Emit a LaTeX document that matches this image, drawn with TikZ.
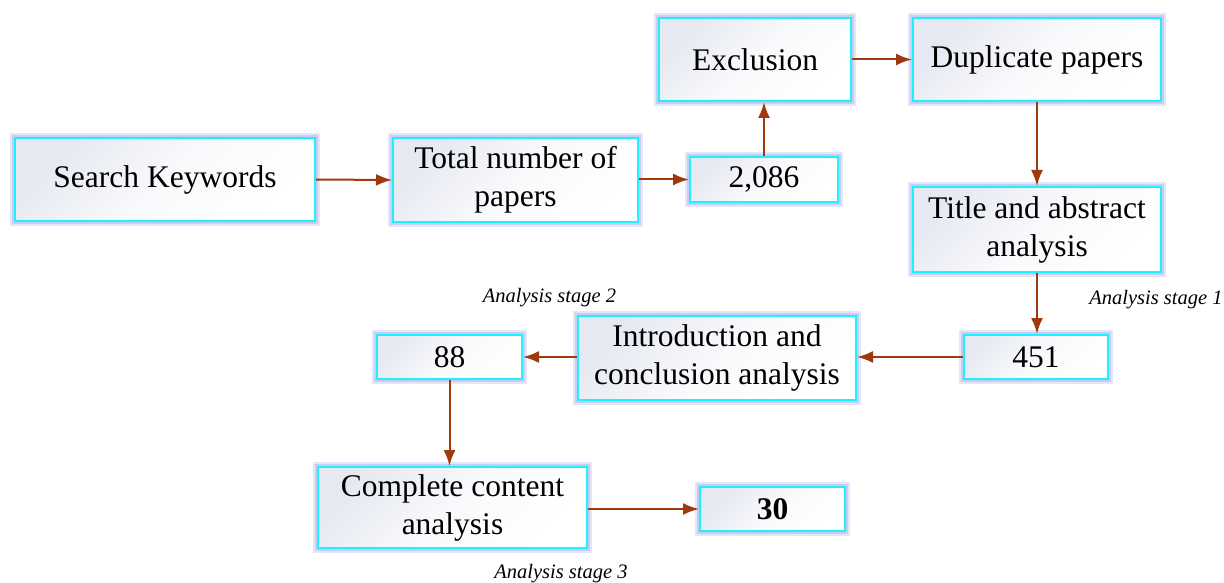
\documentclass[tikz,border=0pt]{standalone}
\usepackage{fontspec}
\setmainfont{Liberation Serif}
\usetikzlibrary{arrows.meta,calc}
\definecolor{arrowc}{RGB}{160,58,14}
\definecolor{glowa}{RGB}{228,230,248}
\definecolor{glowb}{RGB}{200,205,240}
\definecolor{edgec}{RGB}{30,240,255}
\definecolor{shadec}{RGB}{230,233,242}
\tikzset{
  fbox/.style={rectangle, inner sep=0pt, align=center,
    font=\fontsize{31.5}{38}\selectfont,
    preaction={draw=glowa, line width=10pt},
    preaction={draw=glowb, line width=6pt},
    draw=edgec, line width=2pt,
    top color=shadec, bottom color=white, middle color=white!75!shadec, shading angle=45},
  conn/.style={draw=arrowc, line width=2pt, -{Latex[length=16pt,width=12pt]}},
  stagelbl/.style={font=\fontsize{20.5}{24}\selectfont\itshape, inner sep=0pt}
}
\begin{document}
\begin{tikzpicture}[x=1pt,y=-1pt]
\useasboundingbox (0,0) rectangle (1224,583);
\node[fbox, minimum width=300pt, minimum height=83pt] (sk) at (165,179.5) {Search Keywords};
\node[fbox, minimum width=245pt, minimum height=84pt] (tot) at (515.5,180) {Total number of\\papers};
\node[fbox, minimum width=148pt, minimum height=45pt] (n2086) at (764,179.5) {2,086};
\node[fbox, minimum width=192pt, minimum height=83pt] (excl) at (755,59.5) {Exclusion};
\node[fbox, minimum width=248pt, minimum height=83pt] (dup) at (1037,59.5) {Duplicate papers};
\node[fbox, minimum width=248pt, minimum height=85pt] (title) at (1037,229.5) {Title and abstract\\analysis};
\node[fbox, minimum width=144pt, minimum height=44pt] (n451) at (1036,357) {451};
\node[fbox, minimum width=278pt, minimum height=84pt] (intro) at (717,358) {Introduction and\\conclusion analysis};
\node[fbox, minimum width=145pt, minimum height=44pt] (n88) at (449.5,357) {88};
\node[fbox, minimum width=269pt, minimum height=81pt] (comp) at (452.5,507.5) {Complete content\\analysis};
\node[fbox, minimum width=145pt, minimum height=44pt] (n30) at (772.5,509) {\textbf{30}};

\node[stagelbl] (s1) at (1156,300) {Analysis stage 1};
\node[stagelbl] (s2) at (549.5,298) {Analysis stage 2};
\node[stagelbl] (s3) at (561,574) {Analysis stage 3};

\draw[conn] (sk.east) -- (tot.west);
\draw[conn] (tot.east |- n2086.west) -- (n2086.west);
\draw[conn] (n2086.north) -- (n2086.north |- excl.south);
\draw[conn] (excl.east) -- (dup.west);
\draw[conn] (dup.south) -- (title.north);
\draw[conn] (title.south) -- (title.south |- n451.north);
\draw[conn] (n451.west) -- (intro.east |- n451.west);
\draw[conn] (intro.west |- n88.east) -- (n88.east);
\draw[conn] (n88.south) -- (n88.south |- comp.north);
\draw[conn] (comp.east |- n30.west) -- (n30.west);
\end{tikzpicture}
\end{document}
